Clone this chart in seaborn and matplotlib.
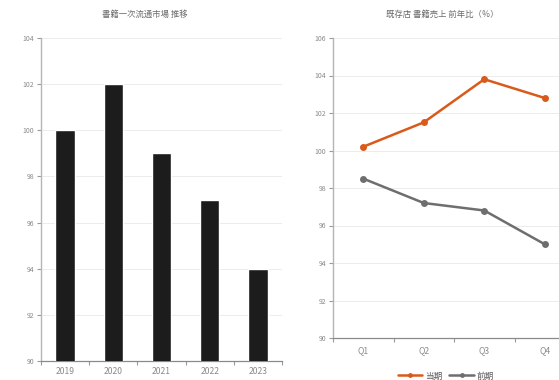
import matplotlib
matplotlib.use("Agg")
import matplotlib.pyplot as plt
import seaborn as sns
import pandas as pd
import numpy as np

# Data
years = ["2019", "2020", "2021", "2022", "2023"]
market_index = [100, 102, 99, 97, 94]

quarters = ["Q1", "Q2", "Q3", "Q4"]
current_period = [100.2, 101.5, 103.8, 102.8]
previous_period = [98.5, 97.2, 96.8, 95.0]
series_names = ["当期", "前期"]

sns.set_theme(style="white")
plt.rcParams["font.family"] = ["Noto Sans CJK JP", "DejaVu Sans"]

TICK_COLOR = "#8a8a8a"
SPINE_COLOR = "#9a9a9a"
GRID_COLOR = "#ececec"
ORANGE = "#d95a1a"
GRAY = "#6e6e6e"

fig = plt.figure(figsize=(5.59, 3.80), dpi=100)

# ---- left: bar chart ----
ax1 = fig.add_axes([41 / 559, 19 / 380, 241 / 559, 323 / 380])
bar_df = pd.DataFrame({"year": years, "value": market_index})
sns.barplot(data=bar_df, x="year", y="value", color="#1c1c1c", width=0.4,
            saturation=1, ax=ax1, zorder=3)
ax1.set_ylim(90, 104)
ax1.set_xlim(-0.5, len(years) - 0.5)
ax1.set_yticks(np.arange(90, 105, 2))
ax1.set_xlabel("")
ax1.set_ylabel("")
ax1.set_xticks(np.arange(-0.5, len(years), 1.0), minor=True)
ax1.tick_params(axis="x", which="major", length=0, labelsize=6.2, labelcolor=TICK_COLOR, pad=4)
ax1.tick_params(axis="x", which="minor", length=3, color=SPINE_COLOR, width=0.8, direction="out", bottom=True)
ax1.tick_params(axis="y", length=3, color=SPINE_COLOR, width=0.8, labelsize=5, labelcolor=TICK_COLOR, pad=2, left=True)
fig.text(145 / 559, 1 - 14 / 380, "書籍一次流通市場 推移", ha="center", va="center",
         fontsize=6, color="#6a6a6a")

# ---- right: line chart ----
ax2 = fig.add_axes([333 / 559, 42 / 380, 242 / 559, 300 / 380])
line_df = pd.DataFrame({
    "quarter": quarters * 2,
    "value": current_period + previous_period,
    "series": [series_names[0]] * len(quarters) + [series_names[1]] * len(quarters),
})
sns.lineplot(data=line_df, x="quarter", y="value", hue="series",
             palette=[ORANGE, GRAY], marker="o", markersize=5, markeredgewidth=0,
             linewidth=1.8, ax=ax2, zorder=3, legend=False)
ax2.set_ylim(90, 106)
ax2.set_xlim(-0.5, len(quarters) - 0.5)
ax2.set_yticks(np.arange(90, 107, 2))
ax2.set_xlabel("")
ax2.set_ylabel("")
ax2.set_xticks(range(len(quarters)))
ax2.set_xticklabels(quarters)
ax2.set_xticks(np.arange(-0.5, len(quarters), 1.0), minor=True)
ax2.tick_params(axis="x", which="major", length=0, labelsize=6.2, labelcolor=TICK_COLOR, pad=6)
ax2.tick_params(axis="x", which="minor", length=3, color=SPINE_COLOR, width=0.8, direction="out", bottom=True)
ax2.tick_params(axis="y", length=3, color=SPINE_COLOR, width=0.8, labelsize=5, labelcolor=TICK_COLOR, pad=2, left=True)
fig.text(442 / 559, 1 - 14 / 380, "既存店 書籍売上 前年比（％）", ha="center", va="center",
         fontsize=6, color="#6a6a6a")

for ax in (ax1, ax2):
    ax.grid(axis="y", color=GRID_COLOR, linewidth=0.7, zorder=0)
    ax.set_axisbelow(True)
    for s in ("top", "right"):
        ax.spines[s].set_visible(False)
    ax.spines["left"].set_color("#b5b5b5")
    ax.spines["bottom"].set_color("#8a8a8a")
    ax.spines["left"].set_linewidth(1.0)
    ax.spines["bottom"].set_linewidth(0.9)

handles = [plt.Line2D([], [], color=ORANGE, marker="o", markersize=3.5, linewidth=1.8, markeredgewidth=0),
           plt.Line2D([], [], color=GRAY, marker="o", markersize=3.5, linewidth=1.8, markeredgewidth=0)]
fig.legend(handles, series_names, loc="center", bbox_to_anchor=(446 / 559, 4 / 380), ncol=2,
           frameon=False, fontsize=6.2, handlelength=2.8, handletextpad=0.4, columnspacing=0.8,
           labelcolor="#555555")

fig.savefig("out.png", dpi=100)
